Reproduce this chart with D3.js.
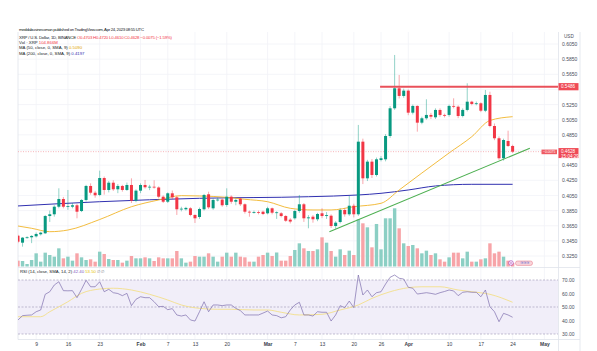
<!DOCTYPE html>
<html lang="en">
<head>
<meta charset="UTF-8">
<title>XRP / U.S. Dollar 1D</title>
<script src="https://d3js.org/d3.v7.min.js"></script>
<style>
  body { margin: 0; background: #fff; }
  svg { display: block; font-family: "Liberation Sans", Arial, sans-serif; }
</style>
</head>
<body>
<svg id="chart" width="597" height="351"></svg>
<script>
// ---- data (daily candles, Jan 5 -> Apr 24 2023) ----
const firstDay = "2023-01-05";
const lastDay = "2023-04-24";

const opens = [0.3518,0.3426,0.3492,0.3497,0.3510,0.3537,0.3550,0.3778,0.3801,0.3901,
  0.4003,0.3901,0.3901,0.3920,0.3844,0.3990,0.4175,0.4086,0.4056,0.4280,
  0.4122,0.4218,0.4131,0.4175,0.4122,0.4188,0.3981,0.4113,0.4188,0.4158,
  0.4165,0.4155,0.4033,0.3967,0.4078,0.4025,0.3867,0.3867,0.3880,0.3792,
  0.3765,0.3867,0.4065,0.3880,0.3990,0.3995,0.3924,0.4033,0.3967,0.4007,
  0.3933,0.3835,0.3827,0.3830,0.3835,0.3814,0.3880,0.3822,0.3814,0.3778,
  0.3730,0.3748,0.3844,0.3933,0.3748,0.3769,0.3735,0.3814,0.3778,0.3782,
  0.3646,0.3699,0.3858,0.3801,0.3914,0.3801,0.4760,0.4276,0.4496,0.4320,
  0.4518,0.4527,0.4835,0.5201,0.5465,0.5364,0.5434,0.5143,0.5232,0.5011,
  0.5069,0.5113,0.5082,0.5179,0.5113,0.5113,0.5232,0.5222,0.5099,0.5179,
  0.5288,0.5258,0.5267,0.5169,0.5377,0.4967,0.4805,0.4541,0.4769,0.4703];
const highs = [0.3530,0.3500,0.3510,0.3525,0.3560,0.3570,0.3790,0.3850,0.3920,0.4144,
  0.4030,0.4122,0.3950,0.3940,0.4000,0.4190,0.4210,0.4110,0.4377,0.4300,
  0.4240,0.4250,0.4200,0.4190,0.4220,0.4276,0.4130,0.4210,0.4254,0.4190,
  0.4250,0.4170,0.4050,0.4090,0.4115,0.4040,0.3900,0.3900,0.3895,0.3800,
  0.3890,0.4070,0.4099,0.4010,0.4020,0.4010,0.4144,0.4050,0.4010,0.4020,
  0.3945,0.3850,0.3850,0.3850,0.3850,0.3900,0.3890,0.3840,0.3830,0.3790,
  0.3750,0.3860,0.4056,0.3950,0.3790,0.3790,0.3820,0.3880,0.3830,0.3800,
  0.3710,0.3880,0.3880,0.4043,0.3940,0.4981,0.4800,0.4520,0.4530,0.4550,
  0.4570,0.4860,0.5230,0.5905,0.5641,0.5460,0.5450,0.5250,0.5240,0.5090,
  0.5320,0.5140,0.5200,0.5200,0.5130,0.5250,0.5333,0.5240,0.5200,0.5531,
  0.5300,0.5290,0.5280,0.5443,0.5420,0.5000,0.4830,0.4800,0.4905,0.4720];
const lows = [0.3420,0.3373,0.3480,0.3420,0.3495,0.3520,0.3540,0.3700,0.3770,0.3880,
  0.3880,0.3860,0.3880,0.3748,0.3830,0.3970,0.4060,0.4020,0.4040,0.4060,
  0.4090,0.4110,0.4080,0.4100,0.4110,0.3950,0.3960,0.4080,0.4140,0.4120,
  0.4140,0.4010,0.3950,0.3950,0.4000,0.3792,0.3840,0.3850,0.3775,0.3686,
  0.3740,0.3850,0.3870,0.3860,0.3970,0.3900,0.3900,0.3940,0.3920,0.3910,
  0.3810,0.3769,0.3810,0.3800,0.3790,0.3800,0.3800,0.3740,0.3760,0.3700,
  0.3680,0.3730,0.3820,0.3700,0.3616,0.3690,0.3710,0.3750,0.3740,0.3620,
  0.3610,0.3680,0.3770,0.3780,0.3760,0.3780,0.4200,0.4240,0.4280,0.4300,
  0.4500,0.4500,0.4810,0.5180,0.5330,0.5340,0.5110,0.5120,0.4892,0.4990,
  0.5050,0.5060,0.5060,0.5090,0.5080,0.5090,0.5200,0.5070,0.5080,0.5160,
  0.5240,0.5240,0.5150,0.5150,0.4950,0.4780,0.4520,0.4510,0.4690,0.4610];
const closes = [0.3439,0.3492,0.3497,0.3515,0.3541,0.3558,0.3778,0.3801,0.3901,0.4003,
  0.3901,0.3910,0.3920,0.3835,0.3990,0.4175,0.4086,0.4052,0.4280,0.4122,
  0.4218,0.4131,0.4175,0.4122,0.4188,0.3981,0.4113,0.4188,0.4158,0.4165,
  0.4158,0.4033,0.3967,0.4078,0.4025,0.3867,0.3875,0.3885,0.3792,0.3748,
  0.3871,0.4056,0.3893,0.3990,0.3995,0.3920,0.4033,0.3967,0.3990,0.3933,
  0.3835,0.3827,0.3830,0.3827,0.3805,0.3880,0.3822,0.3827,0.3778,0.3716,
  0.3705,0.3844,0.3933,0.3748,0.3760,0.3735,0.3805,0.3778,0.3790,0.3646,
  0.3690,0.3858,0.3801,0.3914,0.3801,0.4760,0.4276,0.4496,0.4320,0.4527,
  0.4541,0.4835,0.5201,0.5465,0.5364,0.5434,0.5143,0.5232,0.5011,0.5069,
  0.5113,0.5090,0.5179,0.5113,0.5110,0.5232,0.5222,0.5099,0.5179,0.5288,
  0.5258,0.5267,0.5169,0.5377,0.4967,0.4805,0.4541,0.4782,0.4703,0.4628];
// volume, millions of XRP
const volumes = [175,165,75,195,395,145,415,345,295,545,245,295,175,395,275,195,215,145,445,375,
  225,195,195,115,175,315,245,245,275,245,165,275,245,245,245,465,245,115,145,315,
  295,295,395,295,145,295,415,295,415,295,275,145,145,295,345,415,315,420,175,175,
  315,495,695,545,465,465,515,875,715,465,295,515,345,475,345,1415,1295,1175,575,1275,
  515,1445,1445,1745,1145,695,615,645,545,395,475,345,395,215,145,275,415,415,245,445,
  145,145,215,245,695,395,445,295,175,105];
const rsi = [40.4,43.6,43.9,44.1,46.5,47.8,59.4,61.3,66.3,68.7,
  62.1,62.0,62.1,56.9,63.1,69.8,65.0,65.0,68.7,61.3,
  63.1,60.6,60.0,58.4,60.1,51.0,55.7,57.6,56.9,56.9,
  53.9,50.2,50.5,48.0,48.8,44.1,43.3,44.1,40.4,39.6,
  46.5,53.9,46.5,51.5,51.5,51.0,51.5,51.5,49.0,47.3,
  44.1,44.1,44.1,44.1,45.5,47.0,44.1,43.6,42.0,42.8,
  47.8,51.5,53.5,44.1,44.1,43.3,46.5,46.1,46.1,39.6,
  44.1,51.0,49.5,54.4,49.5,73.7,58.9,62.6,57.6,60.6,
  61.3,67.0,72.0,73.7,71.3,70.7,64.6,63.9,59.6,60.1,
  60.6,60.1,59.4,60.6,61.5,62.6,61.9,58.4,60.9,61.3,
  60.9,60.9,57.6,62.6,50.2,46.5,39.1,45.3,44.1,42.4];

// moving averages, read at a few dates
const maFastDates = ["2023-01-05","2023-01-08","2023-01-12","2023-01-16","2023-01-23","2023-01-30","2023-02-05",
  "2023-02-10","2023-02-14","2023-02-20","2023-02-24","2023-03-01","2023-03-06","2023-03-11","2023-03-15",
  "2023-03-20","2023-03-26","2023-03-30","2023-04-04","2023-04-10","2023-04-15","2023-04-19","2023-04-24"];
const maFastValues = [0.3646,0.3616,0.3571,0.3593,0.3732,0.3901,0.3990,0.4047,0.4043,0.4025,0.3999,0.3967,
  0.3880,0.3858,0.3858,0.3901,0.3946,0.4122,0.4346,0.4611,0.4826,0.5040,0.5090];
const maSlowDates = ["2023-01-05","2023-01-23","2023-02-14","2023-03-10","2023-03-21","2023-03-26","2023-04-01",
  "2023-04-07","2023-04-15","2023-04-24"];
const maSlowValues = [0.3911,0.3967,0.4012,0.4033,0.4056,0.4078,0.4122,0.4175,0.4197,0.4197];
const rsiSmaDates = ["2023-01-05","2023-01-10","2023-01-12","2023-01-16","2023-01-19","2023-01-23","2023-01-26",
  "2023-01-30","2023-02-03","2023-02-07","2023-02-10","2023-02-14","2023-02-18","2023-02-21","2023-02-26",
  "2023-03-01","2023-03-04","2023-03-08","2023-03-13","2023-03-17","2023-03-21","2023-03-24","2023-03-28",
  "2023-04-01","2023-04-04","2023-04-08","2023-04-12","2023-04-15","2023-04-19","2023-04-24"];
const rsiSmaValues = [42.8,42.8,46.5,53.9,60.1,63.3,63.9,62.6,59.4,55.2,51.5,49.0,48.3,48.3,47.8,47.8,46.1,
  44.1,44.6,47.8,51.5,56.4,61.3,64.3,65.0,65.0,62.6,61.3,59.4,53.5];

const trendDates = ["2023-03-14T15:00Z", "2023-04-27T19:00Z"];
const trendPrices = [0.3571, 0.4673];
const resistanceStart = "2023-03-25T19:00Z";
const resistancePrice = 0.5486;

const priceTicks = [0.3250,0.3450,0.3650,0.3850,0.4050,0.4250,0.4450,0.4650,0.4850,0.5050,0.5250,0.5450,0.5650,0.5850,0.6050];
const rsiTicks = [30,40,50,60,70];
const xTickDates = ["2023-01-09","2023-01-16","2023-01-23","2023-02-01","2023-02-07","2023-02-13","2023-02-20",
  "2023-03-01","2023-03-07","2023-03-13","2023-03-20","2023-03-26","2023-04-01","2023-04-10","2023-04-17",
  "2023-04-24","2023-05-01"];
const xTickLabels = ["9","16","23","Feb","7","13","20","Mar","7","13","20","26","Apr","10","17","24","May"];
const monthLabels = ["Feb","Mar","Apr","May"];

// ---- layout ----
const W = 597, H = 351;
const left = 18, right = 558, axisRight = 580;
const paneTop = 32, paneBottom = 267, rsiBottom = 339.5;
const up = "#089981", down = "#f23645";
const upVol = "#8ccfc4", downVol = "#f7a4a8";
const grid = "#f1f3f7", border = "#e0e3eb";

const svg = d3.select("#chart");
svg.append("rect").attr("width", W).attr("height", H).attr("fill", "#fff");

const parse = s => new Date(s.length === 10 ? s + "T00:00Z" : s);
const days = d3.utcDay.range(parse(firstDay), d3.utcDay.offset(parse(lastDay), 1));
const candles = days.map((d, i) => ({date: d, o: opens[i], h: highs[i], l: lows[i], c: closes[i], v: volumes[i], r: rsi[i]}));

const x = d3.scaleUtc().domain([parse("2023-01-05"), parse("2023-05-04")]).range([left, right]);
const y = d3.scaleLinear().domain([0.325, 0.605]).range([256, 44]);
const yVol = d3.scaleLinear().domain([0, 2000]).range([266.5, 199.8]);
const yRsi = d3.scaleLinear().domain([30, 70]).range([334, 280]);

const defs = svg.append("defs");
defs.append("clipPath").attr("id", "mainClip").append("rect")
  .attr("x", left).attr("y", paneTop).attr("width", right - left).attr("height", paneBottom - paneTop);
defs.append("clipPath").attr("id", "rsiClip").append("rect")
  .attr("x", left).attr("y", paneBottom).attr("width", right - left).attr("height", rsiBottom - paneBottom);

// grid
const gridG = svg.append("g");
gridG.selectAll("line.h").data(priceTicks).join("line")
  .attr("x1", left).attr("x2", right).attr("y1", d => y(d)).attr("y2", d => y(d))
  .attr("stroke", grid).attr("stroke-width", 0.8);
gridG.selectAll("line.v").data(xTickDates).join("line")
  .attr("x1", d => x(parse(d))).attr("x2", d => x(parse(d)))
  .attr("y1", paneTop).attr("y2", rsiBottom)
  .attr("stroke", grid).attr("stroke-width", 0.8);

// frame
const frame = svg.append("g").attr("stroke", border).attr("stroke-width", 0.8).attr("fill", "none");
frame.append("line").attr("x1", left).attr("x2", axisRight).attr("y1", paneBottom + 0.5).attr("y2", paneBottom + 0.5);
frame.append("line").attr("x1", left).attr("x2", axisRight).attr("y1", rsiBottom).attr("y2", rsiBottom);
frame.append("line").attr("x1", right + 0.5).attr("x2", right + 0.5).attr("y1", paneTop).attr("y2", H);
frame.append("line").attr("x1", axisRight).attr("x2", axisRight).attr("y1", paneTop).attr("y2", H);
frame.append("line").attr("x1", left).attr("x2", left).attr("y1", paneTop).attr("y2", rsiBottom);

// ---- main pane ----
const main = svg.append("g").attr("clip-path", "url(#mainClip)");

// volume
main.append("g").selectAll("rect").data(candles).join("rect")
  .attr("x", d => x(d.date) - 1.7).attr("width", 3.4)
  .attr("y", d => yVol(d.v)).attr("height", d => yVol(0) - yVol(d.v))
  .attr("fill", d => d.c >= d.o ? upVol : downVol);

// moving averages
const lineP = d3.line().x(d => x(d[0])).y(d => y(d[1])).curve(d3.curveMonotoneX);
main.append("path").datum(maSlowDates.map((d, i) => [parse(d), maSlowValues[i]]))
  .attr("d", lineP).attr("fill", "none").attr("stroke", "#3030b0").attr("stroke-width", 1);
main.append("path").datum(maFastDates.map((d, i) => [parse(d), maFastValues[i]]))
  .attr("d", lineP).attr("fill", "none").attr("stroke", "#f0b429").attr("stroke-width", 0.9);

// last price line
const lastClose = closes[closes.length - 1];
main.append("line").attr("x1", left).attr("x2", right).attr("y1", y(lastClose)).attr("y2", y(lastClose))
  .attr("stroke", "#f4a3a8").attr("stroke-width", 0.8).attr("stroke-dasharray", "1,1.5");

// candles
const cg = main.append("g").selectAll("g").data(candles).join("g");
cg.append("line")
  .attr("x1", d => x(d.date)).attr("x2", d => x(d.date))
  .attr("y1", d => y(d.h)).attr("y2", d => y(d.l))
  .attr("stroke", d => d.c >= d.o ? up : down).attr("stroke-opacity", 0.55).attr("stroke-width", 0.8);
cg.append("rect")
  .attr("x", d => x(d.date) - 1.5).attr("width", 3)
  .attr("y", d => y(Math.max(d.o, d.c)))
  .attr("height", d => Math.max(0.8, Math.abs(y(d.o) - y(d.c))))
  .attr("fill", d => d.c >= d.o ? up : down);

// drawings: resistance and trend line
main.append("line")
  .attr("x1", x(parse(resistanceStart))).attr("x2", right)
  .attr("y1", y(resistancePrice)).attr("y2", y(resistancePrice))
  .attr("stroke", "#e9505a").attr("stroke-width", 2);
main.append("line")
  .attr("x1", x(parse(trendDates[0]))).attr("x2", x(parse(trendDates[1])))
  .attr("y1", y(trendPrices[0])).attr("y2", y(trendPrices[1]))
  .attr("stroke", "#4caf50").attr("stroke-width", 1.1);

// small marker icons at the bottom of the volume area
main.append("circle").attr("cx", 511).attr("cy", 263).attr("r", 2.3)
  .attr("fill", "#fff").attr("stroke", "#9c27b0").attr("stroke-width", 0.6);
main.append("circle").attr("cx", 511).attr("cy", 263).attr("r", 0.7).attr("fill", "#9c27b0");
main.append("rect").attr("x", 515.5).attr("y", 261).attr("width", 17).attr("height", 4.4).attr("rx", 2)
  .attr("fill", "#f9d4da").attr("stroke", "#e57383").attr("stroke-width", 0.5);
main.append("text").attr("x", 524).attr("y", 264.3).attr("text-anchor", "middle")
  .attr("font-size", 3.6).attr("fill", "#5b6bd1").text("≋≋≋");

// in-chart label on the price line
main.append("rect").attr("x", 541.5).attr("y", 149.6).attr("width", 15.5).attr("height", 4.6).attr("fill", "#ef5b63");
main.append("text").attr("x", 549.2).attr("y", 153.1).attr("text-anchor", "middle")
  .attr("font-size", 3.4).attr("fill", "#fff").text("−0.0075");

// ---- price axis ----
// tick labels that sit under a coloured tag are hidden, as on the original
const lastClose0 = closes[closes.length - 1];
const tagPrices = [resistancePrice, lastClose0];
const shownTicks = priceTicks.filter(t => tagPrices.every(p => Math.abs(y(t) - y(p)) > 6));
const priceAxis = svg.append("g").attr("transform", `translate(${right + 2},0)`)
  .call(d3.axisRight(y).tickValues(shownTicks).tickFormat(d3.format(".4f")).tickSize(0).tickPadding(2));
priceAxis.select(".domain").remove();
priceAxis.selectAll("text").attr("font-size", 5).attr("fill", "#4a4e5a").attr("font-family", "Liberation Sans, Arial, sans-serif");
svg.append("text").attr("x", 564).attr("y", 37.5).attr("font-size", 4.6).attr("fill", "#4a4e5a").text("USD");

function axisTag(yy, lines, h) {
  svg.append("rect").attr("x", right + 0.5).attr("y", yy - 3.6).attr("width", 20).attr("height", h).attr("fill", "#ef4a55");
  lines.forEach((t, k) => svg.append("text").attr("x", right + 3).attr("y", yy + 1.7 + k * 4.6)
    .attr("font-size", 4.6).attr("fill", "#fff").text(t));
}
axisTag(y(resistancePrice), [d3.format(".4f")(resistancePrice)], 7.2);
axisTag(y(lastClose), [d3.format(".4f")(lastClose), "15:04:29"], 10);

// ---- RSI pane ----
const rp = svg.append("g").attr("clip-path", "url(#rsiClip)");
rp.append("rect").attr("x", left).attr("width", right - left)
  .attr("y", yRsi(70)).attr("height", yRsi(30) - yRsi(70)).attr("fill", "#f1eef9");
rp.selectAll("line.lvl").data([70, 50, 30]).join("line")
  .attr("x1", left).attr("x2", right).attr("y1", d => yRsi(d)).attr("y2", d => yRsi(d))
  .attr("stroke", "#9b95b3").attr("stroke-width", 0.6).attr("stroke-dasharray", "2,1.5");
rp.append("path").datum(rsiSmaDates.map((d, i) => [parse(d), rsiSmaValues[i]]))
  .attr("d", d3.line().x(d => x(d[0])).y(d => yRsi(d[1])).curve(d3.curveMonotoneX))
  .attr("fill", "none").attr("stroke", "#f3df8a").attr("stroke-width", 0.9);
rp.append("path").datum(candles)
  .attr("d", d3.line().x(d => x(d.date)).y(d => yRsi(d.r)))
  .attr("fill", "none").attr("stroke", "#7e6fae").attr("stroke-width", 0.7);

const rsiAxis = svg.append("g").attr("transform", `translate(${right + 2},0)`)
  .call(d3.axisRight(yRsi).tickValues(rsiTicks).tickFormat(d3.format(".2f")).tickSize(0).tickPadding(2));
rsiAxis.select(".domain").remove();
rsiAxis.selectAll("text").attr("font-size", 5).attr("fill", "#4a4e5a").attr("font-family", "Liberation Sans, Arial, sans-serif");

// ---- time axis ----
const timeAxis = svg.append("g").attr("transform", `translate(0,${rsiBottom})`)
  .call(d3.axisBottom(x).tickValues(xTickDates.map(parse)).tickFormat((d, i) => xTickLabels[i]).tickSize(0).tickPadding(3));
timeAxis.select(".domain").remove();
timeAxis.selectAll("text").attr("font-size", 5).attr("fill", "#3a3e4a")
  .attr("font-family", "Liberation Sans, Arial, sans-serif")
  .attr("font-weight", (d, i) => monthLabels.includes(xTickLabels[i]) ? "bold" : null);

// ---- legends ----
const leg = svg.append("g").attr("font-size", 4.3).attr("fill", "#131722");
leg.append("text").attr("x", 19).attr("y", 30.5).attr("textLength", 125)
  .text("meddabusinessman published on TradingView.com, Apr 24, 2023 08:55 UTC");
const l2 = leg.append("text").attr("x", 19).attr("y", 38.8).attr("textLength", 153);
l2.append("tspan").text("XRP / U.S. Dollar, 1D, BINANCE ");
l2.append("tspan").attr("fill", down).text(" O0.4703 H0.4720 L0.4610 C0.4628 −0.0075 (−1.59%)");
const l3 = leg.append("text").attr("x", 19).attr("y", 44.2);
l3.append("tspan").text("Vol · XRP ");
l3.append("tspan").attr("fill", down).text("104.866M");
const l4 = leg.append("text").attr("x", 19).attr("y", 49.4);
l4.append("tspan").text("MA (50, close, 0, SMA, 9) ");
l4.append("tspan").attr("fill", "#e0a100").text("0.5090");
const l5 = leg.append("text").attr("x", 19).attr("y", 54.6);
l5.append("tspan").text("MA (200, close, 0, SMA, 9) ");
l5.append("tspan").attr("fill", "#3030b0").text("0.4197");

const l6 = leg.append("text").attr("x", 20).attr("y", 273);
l6.append("tspan").text("RSI (14, close, SMA, 14, 2) ");
l6.append("tspan").attr("fill", "#7e57c2").text("42.40 ");
l6.append("tspan").attr("fill", "#e5c100").text("53.50 ");
l6.append("tspan").attr("fill", "#787b86").text("∅ ∅");
</script>
</body>
</html>
